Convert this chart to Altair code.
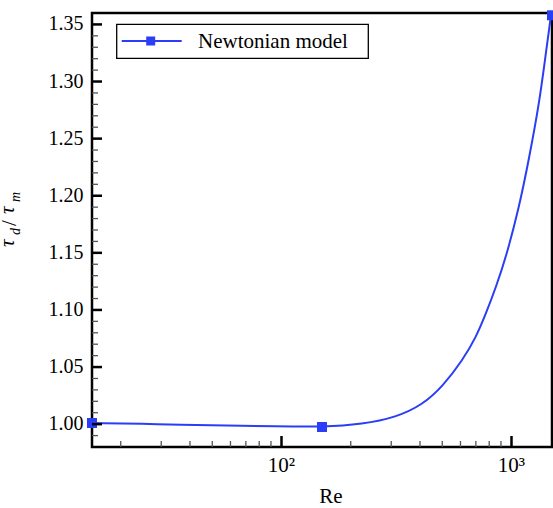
import altair as alt
import pandas as pd

# ---- data ----
re_markers = [15, 150, 1500]
tau_markers = [1.001, 0.9975, 1.358]

re_curve = [15, 30, 47, 100, 150, 226, 315, 411, 502, 613, 701, 775, 856, 946,
            1080, 1193, 1318, 1409, 1483]
tau_curve = [1.001, 1.000, 0.999, 0.998, 0.9975, 1.000, 1.006, 1.017, 1.033, 1.056,
             1.076, 1.097, 1.120, 1.146, 1.190, 1.233, 1.280, 1.324, 1.357]

y_major = [1.00, 1.05, 1.10, 1.15, 1.20, 1.25, 1.30, 1.35]
y_minor = [0.99, 1.01, 1.02, 1.03, 1.04, 1.06, 1.07, 1.08, 1.09, 1.11, 1.12, 1.13,
           1.14, 1.16, 1.17, 1.18, 1.19, 1.21, 1.22, 1.23, 1.24, 1.26, 1.27, 1.28,
           1.29, 1.31, 1.32, 1.33, 1.34]
x_major = [100, 1000]
x_labels = ["10²", "10³"]
x_minor = [20, 30, 40, 50, 60, 70, 80, 90, 200, 300, 400, 500, 600, 700, 800, 900]
series_name = "Newtonian model"
x_title = "Re"

BLUE = "#2a3ef5"
FONT = "Liberation Serif"
W, H = 460, 434

df_curve = pd.DataFrame({"Re": re_curve, "tau": tau_curve})
df_mark = pd.DataFrame({"Re": re_markers, "tau": tau_markers})
one = pd.DataFrame({"k": [0]})

xscale = alt.Scale(type="log", domain=[15, 1500], nice=False)
yscale = alt.Scale(domain=[0.98, 1.36], nice=False, zero=False)


def X():
    return alt.X("Re:Q", scale=xscale, axis=None)


def Y():
    return alt.Y("tau:Q", scale=yscale, axis=None)


curve = alt.Chart(df_curve).mark_line(
    color=BLUE, strokeWidth=2, interpolate="basis"
).encode(x=X(), y=Y())

markers = alt.Chart(df_mark).mark_point(
    shape="square", filled=True, size=100, color=BLUE, opacity=1
).encode(x=X(), y=Y())

df_ymaj = pd.DataFrame({"tau": y_major})
df_ymin = pd.DataFrame({"tau": y_minor})
df_xmaj = pd.DataFrame({"Re": x_major, "lab": x_labels})
df_xmin = pd.DataFrame({"Re": x_minor})

# inward ticks
ymaj = alt.Chart(df_ymaj).mark_rule(color="black", strokeWidth=2.5).encode(
    y=Y(), x=alt.value(0), x2=alt.value(10))
ymin = alt.Chart(df_ymin).mark_rule(color="#555555", strokeWidth=1.3).encode(
    y=Y(), x=alt.value(0), x2=alt.value(6))
xmaj = alt.Chart(df_xmaj).mark_rule(color="black", strokeWidth=2.5).encode(
    x=X(), y=alt.value(H), y2=alt.value(H - 11))
xmin = alt.Chart(df_xmin).mark_rule(color="#555555", strokeWidth=1.3).encode(
    x=X(), y=alt.value(H), y2=alt.value(H - 6))

# tick labels as text marks placed through the scales
ylab = alt.Chart(df_ymaj).mark_text(
    font=FONT, fontSize=20, color="black", align="right", baseline="middle"
).encode(y=Y(), x=alt.value(-8.5), text=alt.Text("tau:Q", format=".2f"))
xlab = alt.Chart(df_xmaj).mark_text(
    font=FONT, fontSize=21, color="black", align="center", baseline="alphabetic"
).encode(x=X(), y=alt.value(H + 25), text=alt.Text("lab:N"))
xtitle = alt.Chart(one).mark_text(
    text=x_title, font=FONT, fontSize=21, color="black", align="center",
    baseline="alphabetic").encode(x=alt.value(239), y=alt.value(H + 56))

# legend
leg_box = alt.Chart(one).mark_rect(fillOpacity=0, stroke="black", strokeWidth=1.3).encode(
    x=alt.value(24.7), x2=alt.value(276.3), y=alt.value(11.3), y2=alt.value(45.3))
leg_line = alt.Chart(one).mark_rule(color=BLUE, strokeWidth=2).encode(
    x=alt.value(29.7), x2=alt.value(89.7), y=alt.value(28))
leg_pt = alt.Chart(one).mark_point(shape="square", filled=True, size=81, color=BLUE,
                                   opacity=1).encode(x=alt.value(58.7), y=alt.value(28))
leg_txt = alt.Chart(one).mark_text(
    text=series_name, font=FONT, fontSize=21, color="black", align="left",
    baseline="middle").encode(x=alt.value(106), y=alt.value(28.5))


# y title  tau_d / tau_m  (rotated pieces)
def piece(txt, size, bx, sy, italic=True):
    return alt.Chart(one).mark_text(
        text=txt, font=FONT, fontSize=size, color="black", align="left",
        baseline="alphabetic", angle=270,
        fontStyle="italic" if italic else "normal",
    ).encode(x=alt.value(bx - 92), y=alt.value(sy - 13))


ytitle = (piece("τ", 21, 14, 247) + piece("d", 14, 19.5, 235) +
          piece("/", 21, 16, 226, italic=False) + piece("τ", 21, 14, 214) +
          piece("m", 14, 19.5, 202))

chart = alt.layer(
    curve, markers, ymin, ymaj, xmin, xmaj, ylab, xlab, xtitle,
    leg_box, leg_line, leg_pt, leg_txt, ytitle
).properties(
    width=W, height=H,
    padding={"left": 92, "top": 13, "right": 1, "bottom": 61},
    autosize="none",
).configure(
    font=FONT,
).configure_view(
    stroke="black", strokeWidth=2.5
)

chart.save("out.html", embed_options={"renderer": "svg", "actions": False})
